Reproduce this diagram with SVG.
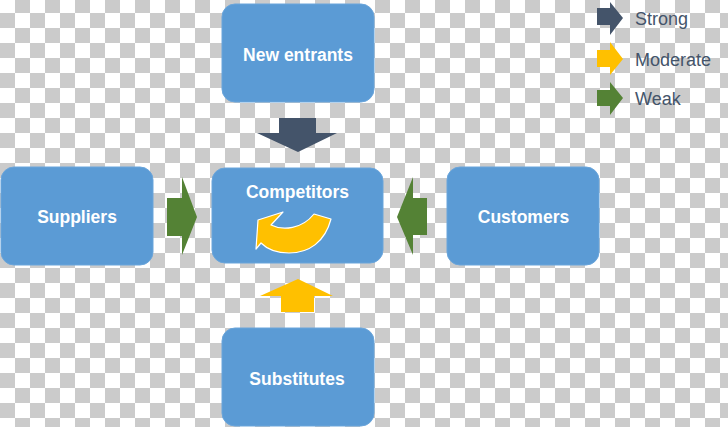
<svg xmlns="http://www.w3.org/2000/svg" width="728" height="427" viewBox="0 0 728 427">
  <defs>
    <pattern id="checker" patternUnits="userSpaceOnUse" x="0" y="-2" width="30" height="30">
      <rect x="0" y="0" width="30" height="30" fill="#ffffff"/>
      <rect x="15" y="0" width="15" height="15" fill="#cbcbcb"/>
      <rect x="0" y="15" width="15" height="15" fill="#cbcbcb"/>
    </pattern>
    <style>
      .box { fill: #5b9bd5; stroke: #6aa5db; stroke-width: 1; }
      .label { font-family: "Liberation Sans", Arial, sans-serif; font-weight: bold; font-size: 17.5px; fill: #ffffff; text-anchor: middle; }
      .legend { font-family: "Liberation Sans", Arial, sans-serif; font-size: 18px; fill: #44546a; }
      .strong { fill: #44546a; }
      .moderate { fill: #ffc000; }
      .weak { fill: #548235; }
    </style>
  </defs>
  <rect x="0" y="0" width="728" height="427" fill="url(#checker)"/>

  <g id="new-entrants">
    <rect class="box" x="222" y="4" width="152" height="98" rx="13"/>
    <text class="label" x="298" y="61">New entrants</text>
  </g>
  <g id="competitors">
    <rect class="box" x="212" y="168" width="171" height="95" rx="13"/>
    <text class="label" x="297.5" y="198">Competitors</text>
    <path class="moderate" stroke="#ffffff" stroke-width="1.2" stroke-linejoin="round"
          d="M 314 214 L 331 219 C 325 242 309 253 289 253 C 275 253 266 248 261 243 L 256 249 L 258 220 L 283 212 L 271 225 C 283 231 302 229 314 214 Z"/>
  </g>
  <g id="suppliers">
    <rect class="box" x="1" y="167" width="152" height="98" rx="13"/>
    <text class="label" x="77" y="223">Suppliers</text>
  </g>
  <g id="customers">
    <rect class="box" x="447" y="167" width="152" height="98" rx="13"/>
    <text class="label" x="523.5" y="223">Customers</text>
  </g>
  <g id="substitutes">
    <rect class="box" x="222" y="328" width="152" height="98" rx="13"/>
    <text class="label" x="297" y="385">Substitutes</text>
  </g>

  <g id="connectors">
    <polygon class="strong" points="279,118 316,118 316,133 337,133 298,152 257,133 279,133"/>
    <polygon class="moderate" points="281,312 314,312 314,296 333,296 298,279 260,296 281,296"/>
    <polygon class="weak" points="167,198 182,198 182,177 197,217 182,255 182,236 167,236"/>
    <polygon class="weak" points="427,198 413,198 413,177 397,217 413,255 413,235 427,235"/>
  </g>

  <g id="legend">
    <polygon class="strong" points="597,8 610,8 610,2 623,18 610,35 610,25 597,25"/>
    <text class="legend" x="635" y="25">Strong</text>
    <polygon class="moderate" points="597,50 610,50 610,42 623,59 610,75 610,67 597,67"/>
    <text class="legend" x="635" y="66">Moderate</text>
    <polygon class="weak" points="597,90 610,90 610,82 623,98 610,115 610,106 597,106"/>
    <text class="legend" x="635" y="105">Weak</text>
  </g>
</svg>
